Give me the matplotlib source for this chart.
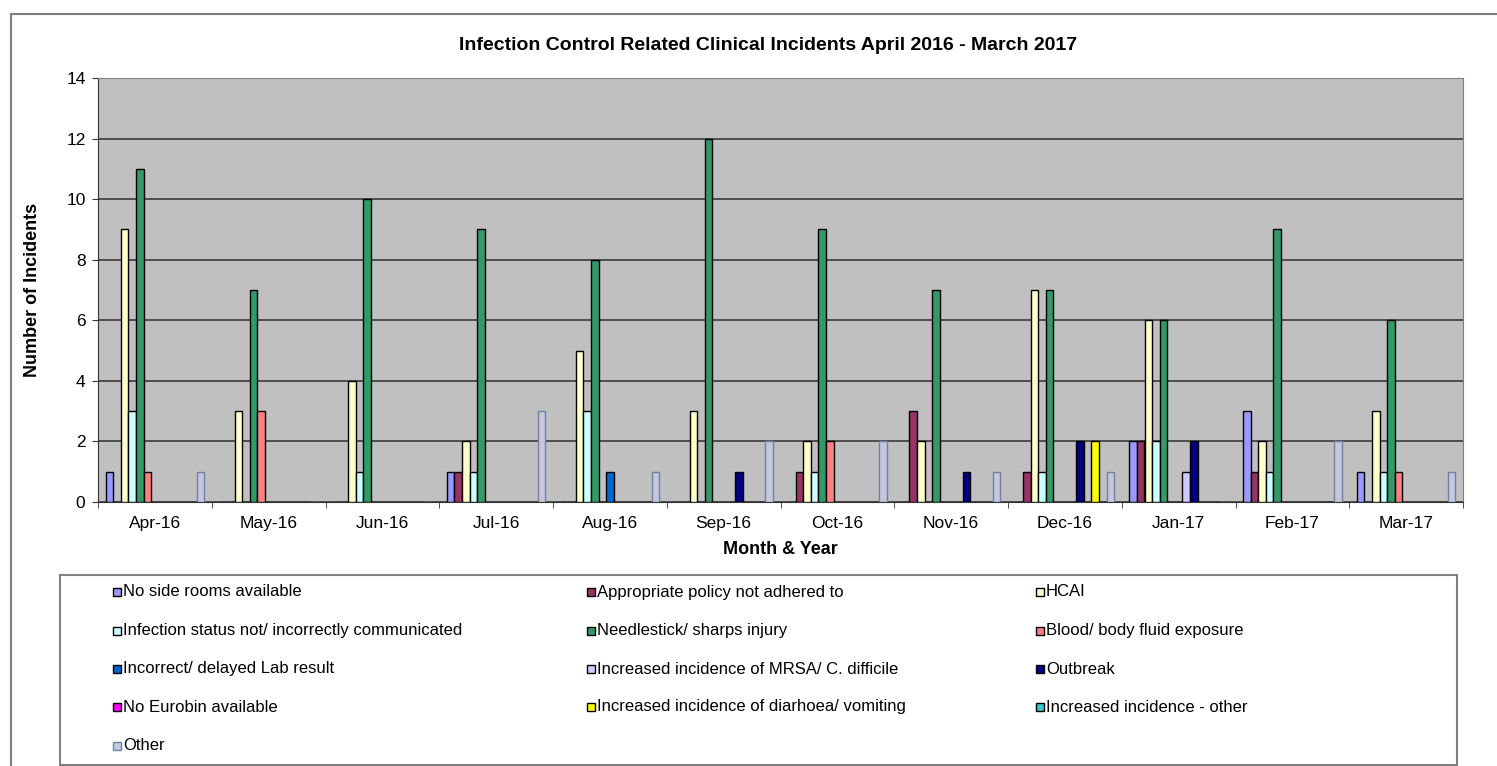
import matplotlib
matplotlib.use("Agg")
import matplotlib.pyplot as plt
import numpy as np
from matplotlib.patches import Rectangle
from matplotlib.lines import Line2D

plt.rcParams['font.family'] = ['Liberation Sans', 'DejaVu Sans']

months = ['Apr-16', 'May-16', 'Jun-16', 'Jul-16', 'Aug-16', 'Sep-16',
          'Oct-16', 'Nov-16', 'Dec-16', 'Jan-17', 'Feb-17', 'Mar-17']

series_names = [
    'No side rooms available',
    'Appropriate policy not adhered to',
    'HCAI',
    'Infection status not/ incorrectly communicated',
    'Needlestick/ sharps injury',
    'Blood/ body fluid exposure',
    'Incorrect/ delayed Lab result',
    'Increased incidence of MRSA/ C. difficile',
    'Outbreak',
    'No Eurobin available',
    'Increased incidence of diarhoea/ vomiting',
    'Increased incidence - other',
    'Other',
]

no_side_rooms = [1, 0, 0, 1, 0, 0, 0, 0, 0, 2, 3, 1]
policy_not_adhered = [0, 0, 0, 1, 0, 0, 1, 3, 1, 2, 1, 0]
hcai = [9, 3, 4, 2, 5, 3, 2, 2, 7, 6, 2, 3]
status_not_communicated = [3, 0, 1, 1, 3, 0, 1, 0, 1, 2, 1, 1]
needlestick = [11, 7, 10, 9, 8, 12, 9, 7, 7, 6, 9, 6]
blood_exposure = [1, 3, 0, 0, 0, 0, 2, 0, 0, 0, 0, 1]
lab_result = [0, 0, 0, 0, 1, 0, 0, 0, 0, 0, 0, 0]
mrsa_cdiff = [0, 0, 0, 0, 0, 0, 0, 0, 0, 1, 0, 0]
outbreak = [0, 0, 0, 0, 0, 1, 0, 1, 2, 2, 0, 0]
no_eurobin = [0, 0, 0, 0, 0, 0, 0, 0, 0, 0, 0, 0]
diarrhoea = [0, 0, 0, 0, 0, 0, 0, 0, 2, 0, 0, 0]
incidence_other = [0, 0, 0, 0, 0, 0, 0, 0, 0, 0, 0, 0]
other = [1, 0, 0, 3, 1, 2, 2, 1, 1, 0, 2, 1]

all_series = [no_side_rooms, policy_not_adhered, hcai, status_not_communicated,
              needlestick, blood_exposure, lab_result, mrsa_cdiff, outbreak,
              no_eurobin, diarrhoea, incidence_other, other]

colors = ['#9999FF', '#993366', '#FFFFCC', '#CCFFFF', '#339966', '#FF8080',
          '#0066CC', '#CCCCFF', '#000080', '#FF00FF', '#FFFF00', '#33CCCC',
          '#C4C8DA']
edges = ['black'] * 12 + ['#7080A8']

W, H = 1497, 766
fig = plt.figure(figsize=(W / 100, H / 100), dpi=100)
ax = fig.add_axes([98 / W, 1 - 502 / H, (1463 - 98) / W, (502 - 78) / H])
ax.set_facecolor('#C0C0C0')

n = len(all_series)
w = 1.0 / (n + 2)
x = np.arange(len(months))
for i, vals in enumerate(all_series):
    pos = x - 0.5 + w + i * w
    ax.bar(pos, vals, width=w, align='edge', color=colors[i],
           edgecolor=edges[i], linewidth=1.0, zorder=3)

ax.set_xlim(-0.5, len(months) - 0.5)
ax.set_ylim(0, 14)
ax.set_yticks(range(0, 15, 2))
ax.yaxis.grid(True, color='#3a3a3a', linewidth=1.2, zorder=1)
ax.set_xticks(x)
ax.set_xticklabels(months, fontsize=12.5)
ax.set_xticks(np.arange(len(months) + 1) - 0.5, minor=True)
ax.tick_params(axis='x', which='major', length=0, pad=10)
ax.tick_params(axis='x', which='minor', length=4, color='#333333')
ax.tick_params(axis='y', labelsize=12.5, length=4, color='#333333', pad=5)
for s in ['top', 'right']:
    ax.spines[s].set_color('#808080')
for s in ['left', 'bottom']:
    ax.spines[s].set_color('#333333')

ax.set_xlabel('Month & Year', fontsize=13, fontweight='bold', labelpad=7)
ax.set_ylabel('Number of Incidents', fontsize=13, fontweight='bold', labelpad=18)
fig.text(768 / W, 1 - 45 / H, 'Infection Control Related Clinical Incidents April 2016 - March 2017',
         ha='center', va='center', fontsize=14, fontweight='bold')

# outer chart border
fig.add_artist(Line2D([11 / W, 1.0], [1 - 14 / H] * 2, color='#808080', lw=1.5))
fig.add_artist(Line2D([11 / W] * 2, [0, 1 - 14 / H], color='#808080', lw=1.5))

# legend box, entries laid out row by row in 3 columns
fig.add_artist(Rectangle((60 / W, 1 - 765 / H), (1457 - 60) / W, (765 - 575) / H,
                         transform=fig.transFigure, facecolor='white',
                         edgecolor='#808080', linewidth=1.5))
col_x = [113, 587, 1036]
row_y = [592, 630.5, 669, 707, 745.5]
for i, name in enumerate(series_names):
    cx = col_x[i % 3]
    cy = row_y[i // 3]
    fig.add_artist(Rectangle((cx / W, 1 - (cy + 4) / H), 8 / W, 8 / H,
                             transform=fig.transFigure, facecolor=colors[i],
                             edgecolor=edges[i] if i == 12 else 'black', linewidth=1.0))
    fig.text((cx + 10) / W, 1 - cy / H, name, ha='left', va='center', fontsize=12)

fig.savefig('out.png', dpi=100)
